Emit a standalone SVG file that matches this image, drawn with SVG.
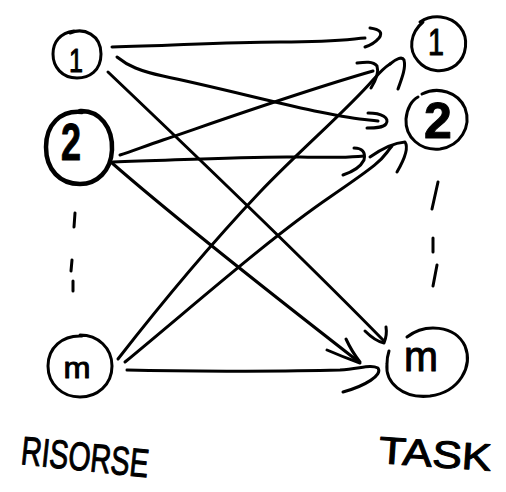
<svg xmlns="http://www.w3.org/2000/svg" width="506" height="492" viewBox="0 0 506 492">
  <style>
    .ink { fill: none; stroke: #000; stroke-width: 3; stroke-linecap: round; stroke-linejoin: round; }
    .thick { stroke-width: 4.5; }
    .lbl { font-family: "Liberation Sans", Arial, sans-serif; fill: #000; stroke: #000; stroke-width: 1; stroke-linejoin: round; }
    .num { text-anchor: middle; }
  </style>
  <rect width="506" height="492" fill="#fff"/>

  <!-- resource nodes (left column) -->
  <g id="res-1">
    <path class="ink" d="M70,33 C84,27 101,35 101,54 C101,71 89,78 77,78 C62,78 53,67 53,54 C53,42 60,33 74,31"/>
    <text class="lbl num" x="76" y="72" font-size="34" textLength="14" lengthAdjust="spacingAndGlyphs">1</text>
  </g>
  <g id="res-2">
    <path class="ink thick" d="M80,111 C100,110 113,128 112,150 C111,171 97,184 80,184 C60,184 46,170 46,147 C46,125 60,110 82,112"/>
    <text class="lbl num" x="71" y="160" font-size="52" font-weight="bold" textLength="20" lengthAdjust="spacingAndGlyphs">2</text>
  </g>
  <g id="res-m">
    <path class="ink" d="M80,335 C98,335 112,348 112,366 C112,385 97,397 80,397 C62,397 48,384 48,366 C48,348 62,335 82,336"/>
    <text class="lbl num" x="77" y="378" font-size="30" textLength="27" lengthAdjust="spacingAndGlyphs">m</text>
  </g>

  <!-- task nodes (right column) -->
  <g id="task-1">
    <path class="ink" d="M420,22 C432,14 450,15 460,27 C469,38 467,56 456,65 C444,74 427,72 418,61 C408,50 410,33 423,22"/>
    <text class="lbl num" x="436" y="55" font-size="36" textLength="16" lengthAdjust="spacingAndGlyphs">1</text>
  </g>
  <g id="task-2">
    <path class="ink" d="M422,94 C438,86 458,92 465,108 C472,127 460,146 440,149 C420,151 405,137 406,119 C407,108 412,100 418,97"/>
    <text class="lbl num" x="438" y="138" font-size="50" font-weight="bold">2</text>
  </g>
  <g id="task-m">
    <path class="ink" d="M407,337 C425,323 455,325 465,346 C473,366 460,392 430,396 C402,399 385,382 387,364 C387,358 388,354 389,351"/>
    <text class="lbl num" x="421" y="371" font-size="42" textLength="34" lengthAdjust="spacingAndGlyphs">m</text>
  </g>

  <!-- column ellipsis dashes -->
  <g id="dashes">
    <path class="ink" d="M75,213 L74,227 M72,260 L71,271 M73,281 L73,291"/>
    <path class="ink" d="M438,182 L432,209 M433,238 L433,252 M437,265 L433,286"/>
  </g>

  <!-- connectors: every resource to every task -->
  <g id="connectors">
    <!-- 1 -> 1 -->
    <path class="ink" d="M112,47 C170,46 220,42 280,42 S350,39 365,38"/>
    <path class="ink" d="M370,28 Q385,30 379,38 Q374,44 365,47"/>
    <!-- 1 -> 2 -->
    <path class="ink" d="M117,57 C128,66 140,71 163,76 C220,88 280,104 320,112 S360,119 378,121"/>
    <path class="ink" d="M368,113 C382,113 390,118 386,124 C383,128 375,128 367,128"/>
    <!-- 1 -> m -->
    <path class="ink" d="M108,72 C190,150 300,255 384,341"/>
    <path class="ink" d="M365,331 C372,338 379,342 384,343 C386,338 387,333 386,327"/>
    <!-- 2 -> 1 -->
    <path class="ink" d="M120,155 C130,152 140,148 163,140 C230,117 300,92 373,71"/>
    <path class="ink" d="M357,63 C365,62 373,61 377,66 C379,72 376,80 371,88"/>
    <!-- 2 -> 2 -->
    <path class="ink" d="M113,162 C180,160 250,156 300,157 S350,157 364,156"/>
    <path class="ink" d="M354,148 C362,148 366,152 364,160 C360,168 352,172 343,175"/>
    <!-- 2 -> m -->
    <path class="ink" d="M112,163 C160,205 260,285 359,362"/>
    <path class="ink" d="M346,339 Q352,352 360,362 M327,350 Q343,357 360,363"/>
    <!-- m -> 1 -->
    <path class="ink" d="M118,359 C160,305 210,245 260,192 C300,150 345,112 373,80 C380,72 385,67 390,64"/>
    <path class="ink" d="M390,64 C396,59 402,56 404,60 C406,68 402,78 398,89"/>
    <!-- m -> 2 -->
    <path class="ink" d="M125,362 C200,300 270,238 330,197 S380,160 392,146"/>
    <path class="ink" d="M370,157 C380,150 392,143 405,142 C409,148 404,160 397,172"/>
    <!-- m -> m -->
    <path class="ink" d="M127,370 C200,372 300,371 340,370 C360,369 370,364 378,368 C383,375 365,386 343,392"/>
  </g>

  <!-- column captions -->
  <text class="lbl" x="20" y="464" font-size="40" textLength="128" lengthAdjust="spacingAndGlyphs" transform="rotate(6 20 464)">RISORSE</text>
  <text class="lbl" x="378" y="463" font-size="38" textLength="113" lengthAdjust="spacingAndGlyphs" transform="rotate(4 378 463)">TASK</text>
</svg>
